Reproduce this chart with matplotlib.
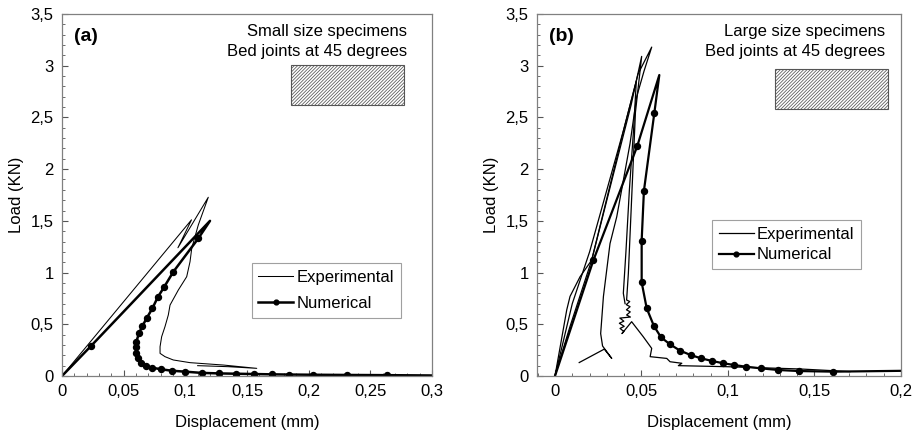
import matplotlib
matplotlib.use("Agg")
import matplotlib.pyplot as plt
from matplotlib.ticker import MultipleLocator, FuncFormatter
from matplotlib.patches import Rectangle

plt.rcParams['font.family'] = ['Liberation Sans', 'DejaVu Sans']
plt.rcParams['hatch.linewidth'] = 0.55
plt.rcParams['hatch.color'] = '#444444'

# ---------------- data: panel (a) ----------------
num_a_x = [0, 0.0235, 0.12, 0.1105, 0.0903, 0.083, 0.0776, 0.0733, 0.0686, 0.0652, 0.0624,
           0.0603, 0.060, 0.0603, 0.0613, 0.064, 0.0678, 0.0733, 0.0803, 0.089, 0.0997,
           0.1133, 0.1273, 0.1411, 0.1557, 0.170, 0.1843, 0.2038, 0.2308, 0.2633, 0.3]
num_a_y = [0, 0.29, 1.5, 1.33, 1.008, 0.864, 0.761, 0.654, 0.558, 0.483, 0.413,
           0.332, 0.283, 0.225, 0.171, 0.123, 0.097, 0.080, 0.065, 0.051, 0.042,
           0.030, 0.025, 0.022, 0.019, 0.016, 0.014, 0.012, 0.010, 0.008, 0.005]

exp_a_x = [0, 0.105, 0.094, 0.1186, 0.1105, 0.1052, 0.1038, 0.1011, 0.0943, 0.0876, 0.0862,
           0.0835, 0.0808, 0.0795, 0.0795, 0.0835, 0.0902, 0.1038, 0.1308, 0.1579, 0.135, 0.110]
exp_a_y = [0, 1.51, 1.24, 1.728, 1.46, 1.235, 1.105, 0.960, 0.831, 0.686, 0.590,
           0.477, 0.380, 0.283, 0.219, 0.187, 0.155, 0.129, 0.106, 0.074, 0.090, 0.100]

# ---------------- data: panel (b) ----------------
num_b_x = [0, 0.0222, 0.0475, 0.0603, 0.0574, 0.0514, 0.0501, 0.0501, 0.053, 0.0572, 0.0613,
           0.0665, 0.0723, 0.0784, 0.0844, 0.0909, 0.0973, 0.1037, 0.1102, 0.1191, 0.1291,
           0.141, 0.1609, 0.2]
num_b_y = [0, 1.12, 2.22, 2.91, 2.54, 1.79, 1.31, 0.906, 0.655, 0.483, 0.374,
           0.306, 0.245, 0.203, 0.171, 0.145, 0.123, 0.106, 0.09, 0.074, 0.058,
           0.048, 0.042, 0.05]

exp_b1_x = [0, 0.0068, 0.0087, 0.0145, 0.0212, 0.030, 0.040, 0.048, 0.0559, 0.0515, 0.0472,
            0.0434, 0.0357, 0.0318, 0.028, 0.0264, 0.0275, 0.0328, 0.0285, 0.014]
exp_b1_y = [0, 0.64, 0.77, 0.96, 1.12, 1.72, 2.40, 2.92, 3.18, 2.95, 2.70,
            2.25, 1.54, 1.28, 0.77, 0.41, 0.29, 0.17, 0.26, 0.13]

exp_b2_x = [0, 0.0087, 0.0212, 0.033, 0.044, 0.0501, 0.0465, 0.0440, 0.0424, 0.0414, 0.0432,
            0.0412, 0.0434, 0.0413, 0.0435, 0.0414, 0.0436, 0.0375, 0.0398, 0.0372, 0.0400,
            0.0376, 0.0398, 0.0387, 0.0443, 0.051, 0.0559, 0.055, 0.0646, 0.0665, 0.0733,
            0.0713, 0.0992, 0.1416, 0.161, 0.1705]
exp_b2_y = [0, 0.48, 1.12, 1.90, 2.62, 3.09, 2.55, 1.60, 0.99, 0.735, 0.72,
            0.69, 0.67, 0.64, 0.62, 0.59, 0.57, 0.56, 0.53, 0.51, 0.48,
            0.46, 0.43, 0.41, 0.525, 0.38, 0.267, 0.187, 0.17, 0.138, 0.123,
            0.10, 0.09, 0.068, 0.051, 0.042]

exp_b3_x = [0, 0.010, 0.020, 0.030, 0.040, 0.0470, 0.0455, 0.0430, 0.0410, 0.0395, 0.0405]
exp_b3_y = [0, 0.70, 1.20, 1.80, 2.40, 2.85, 2.40, 1.80, 1.20, 0.80, 0.70]

def comma_fmt(v, pos):
    s = ('%.2f' % v).rstrip('0').rstrip('.')
    if s in ('-0', ''):
        s = '0'
    return s.replace('.', ',')

fig = plt.figure(figsize=(9.22, 4.42), dpi=100)
axa = fig.add_axes([62/922, 66/442, 370/922, 362/442])
axb = fig.add_axes([537/922, 66/442, 364/922, 362/442])

spine_c = '#808080'
fs = 12

def style(ax, xmax, xmin, xmaj):
    ax.set_xlim(xmin, xmax)
    ax.set_ylim(0, 3.5)
    ax.xaxis.set_major_locator(MultipleLocator(xmaj))
    ax.xaxis.set_minor_locator(MultipleLocator(0.01))
    ax.yaxis.set_major_locator(MultipleLocator(0.5))
    ax.yaxis.set_minor_locator(MultipleLocator(0.1))
    ax.xaxis.set_major_formatter(FuncFormatter(comma_fmt))
    ax.yaxis.set_major_formatter(FuncFormatter(comma_fmt))
    for s in ax.spines.values():
        s.set_color(spine_c)
        s.set_linewidth(0.9)
    ax.tick_params(which='both', direction='in', color='#555555', labelsize=fs)
    ax.tick_params(which='major', length=4, width=0.8)
    ax.tick_params(which='minor', length=2.5, width=0.6)
    ax.tick_params(axis='x', pad=6)
    ax.tick_params(axis='y', pad=6)
    ax.set_xlabel('Displacement (mm)', fontsize=fs, labelpad=11)
    ax.set_ylabel('Load (KN)', fontsize=fs, labelpad=5)

style(axa, 0.3, 0, 0.05)
style(axb, 0.2, -0.0104, 0.05)

# panel (a)
axa.plot(exp_a_x, exp_a_y, color='black', lw=0.75, label='Experimental')
mk_a = list(range(1, len(num_a_x) - 1))
mk_a.remove(2)
axa.plot(num_a_x, num_a_y, color='black', lw=1.8, marker='o', markersize=4.3,
         markevery=mk_a, label='Numerical')

# panel (b)
axb.plot(exp_b1_x, exp_b1_y, color='black', lw=0.9, label='Experimental')
axb.plot(exp_b2_x, exp_b2_y, color='black', lw=0.9)
axb.plot(exp_b3_x, exp_b3_y, color='black', lw=0.9)
mk_b = [1, 2] + list(range(4, len(num_b_x) - 1))
axb.plot(num_b_x, num_b_y, color='black', lw=1.6, marker='o', markersize=4.3,
         markevery=mk_b, label='Numerical')

# annotations
for ax, tag, title, tx, box in [
        (axa, '(a)', 'Small size specimens', 0.933, (0.618, 0.749, 0.306, 0.109)),
        (axb, '(b)', 'Large size specimens', 0.956, (0.654, 0.738, 0.311, 0.109))]:
    ax.text(0.032, 0.937, tag, transform=ax.transAxes, fontsize=14, fontweight='bold',
            va='center', ha='left')
    ax.text(tx, 0.953, title, transform=ax.transAxes, fontsize=fs, va='center', ha='right')
    ax.text(tx, 0.896, 'Bed joints at 45 degrees', transform=ax.transAxes, fontsize=fs,
            va='center', ha='right')
    ax.add_patch(Rectangle(box[:2], box[2], box[3], transform=ax.transAxes,
                           facecolor='white', edgecolor='#555555', hatch='//////////', lw=0.8))

legkw = dict(loc='upper left', fontsize=fs, frameon=True, fancybox=False, numpoints=1,
             handlelength=2.1, handletextpad=0.2, borderpad=0.4,
             borderaxespad=0, markerscale=0.8)
la = axa.legend(bbox_to_anchor=(0.513, 0.311), labelspacing=0.65, **legkw)
lb = axb.legend(bbox_to_anchor=(0.481, 0.431), labelspacing=0.35, **legkw)
for lg in (la, lb):
    lg.get_frame().set_edgecolor('#888888')
    lg.get_frame().set_linewidth(0.8)

fig.savefig('out.png', dpi=100)
